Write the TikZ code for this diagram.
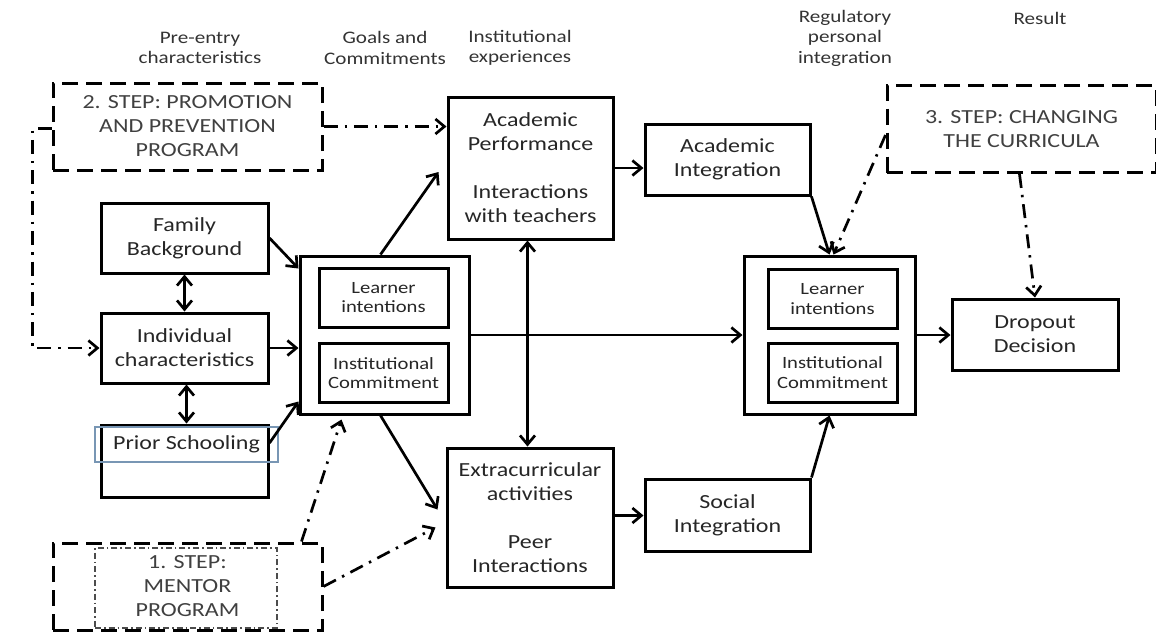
\documentclass[tikz,border=0pt]{standalone}
\usepackage{fontspec}
\setmainfont{Carlito}[FakeStretch=1.2]
\usetikzlibrary{positioning, arrows.meta}
\definecolor{steelframe}{RGB}{120,150,180}
\tikzset{
  box/.style={draw, line width=1.5pt, align=center, inner sep=1pt, text=black!85,
    font=\fontsize{10}{12}\selectfont},
  inbox/.style={box, minimum width=64.5pt, minimum height=29.5pt,
    font=\fontsize{8.6}{9.6}\selectfont},
  stepbox/.style={box, line width=1.5pt, dash pattern=on 8pt off 4pt,
    minimum width=134.5pt, minimum height=43.5pt, text=black!75},
  head/.style={align=center, text=black!80, font=\fontsize{8.8}{10.2}\selectfont},
  arr/.style={line width=1.35pt, -{Straight Barb[length=4.5pt,width=7.5pt]}},
  dbl/.style={line width=1.35pt, {Straight Barb[length=4.5pt,width=7.5pt]}-{Straight Barb[length=4.5pt,width=7.5pt]}},
  dda/.style={arr, line width=1.35pt, dash pattern=on 7pt off 3.5pt on 1.2pt off 3.5pt},
}

\begin{document}
\begin{tikzpicture}[x=0.5pt, y=-0.5pt]
    \useasboundingbox (0,0) rectangle (1156,634);
    % column heads
    \node[head] (hpre) at (200,48) {Pre-entry\\characteristics};
    \node[head] (hgoal) at (385,48) {Goals and\\Commitments};
    \node[head] (hexp) at (520,48) {Institutional\\experiences};
    \node[head] (hreg) at (845,38) {Regulatory\\personal\\integration};
    \node[head] (hres) at (1040,18) {Result};
    % boxes
    \node[stepbox] (step2) at (187.5,126.5) {2. STEP: PROMOTION\\AND PREVENTION\\PROGRAM};
    \node[stepbox] (step3) at (1021.5,129) {3. STEP: CHANGING\\THE CURRICULA};
    \node[stepbox] (step1) at (187.5,586.5) {1. STEP:\\MENTOR\\PROGRAM};
    \node[draw, black!70, line width=0.6pt, dash pattern=on 3pt off 1.5pt on 0.8pt off 1.5pt,
      minimum width=91pt, minimum height=40pt] (step1in) at (186,588) {};
    \node[box, minimum width=83.5pt, minimum height=35pt] (family) at (184.5,238) {Family\\Background};
    \node[box, minimum width=83.5pt, minimum height=35pt] (indiv) at (184.5,348) {Individual\\characteristics};
    \node[box, minimum width=83.5pt, minimum height=36pt] (prior) at (184.5,461) {};
    \node[draw=steelframe, line width=0.6pt, minimum width=91.5pt, minimum height=17.5pt,
      text=black!85, font=\fontsize{10}{12}\selectfont] (priortxt) at (186.5,444.5) {Prior Schooling};
    \node[box, minimum width=84.5pt, minimum height=79pt] (goalsL) at (384.5,335) {};
    \node[inbox] (learnL) at (383.5,297.5) {Learner\\intentions};
    \node[inbox] (instL) at (383.5,373) {Institutional\\Commitment};
    \node[box, minimum width=82.5pt, minimum height=71pt] (acperf) at (530.5,168)
      {Academic\\Performance\\[12pt]Interactions\\with teachers};
    \node[box, minimum width=83pt, minimum height=69.5pt] (extra) at (530,517.5)
      {Extracurricular\\activities\\[12pt]Peer\\Interactions};
    \node[box, minimum width=82.5pt, minimum height=35.5pt] (acint) at (727.5,159.5) {Academic\\Integration};
    \node[box, minimum width=82.5pt, minimum height=36pt] (social) at (727.5,515) {Social\\Integration};
    \node[box, minimum width=85.5pt, minimum height=79pt] (goalsR) at (829.5,335) {};
    \node[inbox] (learnR) at (832.5,299) {Learner\\intentions};
    \node[inbox] (instR) at (832.5,372.5) {Institutional\\Commitment};
    \node[box, minimum width=83pt, minimum height=35.5pt] (dropout) at (1035,334.5) {Dropout\\Decision};
    % connectors
    \draw[arr] (family.east) -- ([yshift=-7pt]goalsL.north west);
    \draw[arr] (indiv.east) -- (indiv.east -| goalsL.west);
    \draw[arr] ([yshift=9pt]prior.east) -- ([yshift=7pt]goalsL.south west);
    \draw[dbl] (family.south) -- (indiv.north);
    \draw[dbl] ([xshift=1pt]indiv.south) -- ([xshift=1pt]prior.north);
    \draw[arr] ([xshift=-2pt]goalsL.north) -- ([xshift=-4pt,yshift=-2pt]acperf.west);
    \draw[arr] ([xshift=-2pt]goalsL.south) -- ([xshift=-4pt,yshift=4pt]extra.west);
    \draw[arr] (goalsL.east) -- (goalsR.west);
    \draw[dbl] ([xshift=-1.5pt]acperf.south) -- ([xshift=-1.5pt]acperf.south |- extra.north);
    \draw[arr] (acperf.east) -- (acperf.east -| acint.west);
    \draw[arr] ([yshift=1pt]extra.east) -- ([yshift=1pt]extra.east -| social.west);
    \draw[arr] (acint.south east) -- (goalsR.north);
    \draw[arr] (social.north east) -- (goalsR.south);
    \draw[arr] (goalsR.east) -- (goalsR.east -| dropout.west);
    % steps
    \draw[dda] (step2.east) -- (step2.east -| acperf.west);
    \draw[dda] ([yshift=-1pt]step2.west) -- ++(-19,0) |- (indiv.west);
    \draw[dda] ([yshift=-3pt]step3.west) -- ([xshift=2pt]goalsR.north);
    \draw[dda] ([xshift=-1pt]step3.south) -- (dropout.north);
    \draw[dda] ([xshift=-11pt]step1.north east) -- ([xshift=21.5pt,yshift=-2pt]goalsL.south west);
    \draw[dda] (step1.east) -- ([xshift=-5pt,yshift=-5pt]extra.west);
\end{tikzpicture}
\end{document}
